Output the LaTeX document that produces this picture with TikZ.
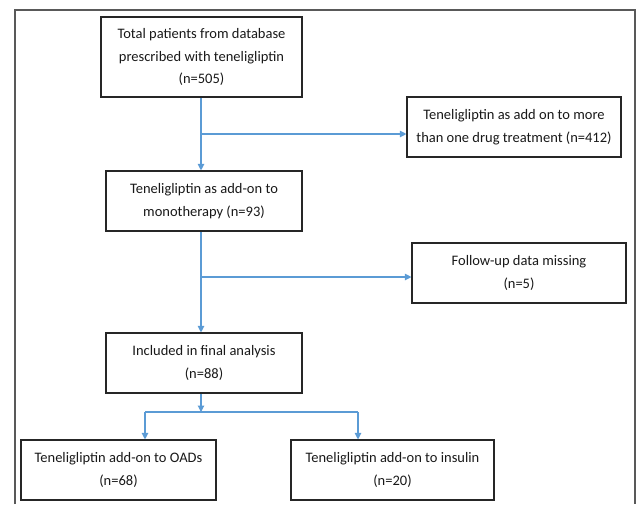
\documentclass[tikz,border=0pt]{standalone}
\usepackage{fontspec}
\setmainfont{Carlito}
\usepackage{tikz}
\usetikzlibrary{arrows.meta}
\pgfdeclarelayer{edgelayer}
\pgfdeclarelayer{nodelayer}
\pgfsetlayers{edgelayer,nodelayer,main}
\definecolor{flowblue}{RGB}{91,155,213}
\definecolor{boxtext}{RGB}{25,25,25}
\tikzstyle{none}=[inner sep=0pt]
\tikzstyle{box}=[rectangle,draw=black!85,fill=white,line width=1.1pt,align=center,text=boxtext,font=\fontsize{14.5}{22.5}\selectfont,inner sep=0pt]
\tikzstyle{frame}=[-,draw=black!65,line width=2pt]
\tikzstyle{blueline}=[-,draw=flowblue,line width=1.1pt]
\tikzstyle{bluearrow}=[-{Triangle[width=6.5pt,length=6.5pt]},draw=flowblue,fill=flowblue,line width=1.1pt]

\begin{document}
\begin{tikzpicture}[x=1pt,y=-1pt]
					\useasboundingbox (0,0) rectangle (636,504);
					\begin{pgfonlayer}{nodelayer}
						\node [style=box,minimum width=201pt,minimum height=80pt] (total) at (201.5,57) {Total patients from database\\prescribed with teneligliptin\\(n=505)};
						\node [style=box,minimum width=214pt,minimum height=60pt] (multi) at (514,127) {Teneligliptin as add on to more\\than one drug treatment (n=412)};
						\node [style=box,minimum width=196pt,minimum height=60pt] (mono) at (204,201) {Teneligliptin as add-on to\\monotherapy (n=93)};
						\node [style=box,minimum width=214pt,minimum height=60pt] (missing) at (519,273) {Follow-up data missing\\(n=5)};
						\node [style=box,minimum width=196pt,minimum height=60pt] (final) at (204,363) {Included in final analysis\\(n=88)};
						\node [style=box,minimum width=195pt,minimum height=60pt] (oad) at (118.5,470) {Teneligliptin add-on to OADs\\(n=68)};
						\node [style=box,minimum width=203pt,minimum height=60pt] (insulin) at (392.5,470) {Teneligliptin add-on to insulin\\(n=20)};
						\coordinate (split) at (201,134);
						\coordinate (split0) at (201,277);
						\coordinate (fork) at (201,412);
						\coordinate (forkleft) at (145,412);
						\coordinate (forkright) at (358,412);
					\end{pgfonlayer}
					\begin{pgfonlayer}{edgelayer}
						\draw [style=frame] (15,504) -- (15,10) -- (634.5,10) -- (634.5,504);
						\draw [style=bluearrow] (split |- total.south) to (split |- mono.north);
						\draw [style=bluearrow] (split) to (split -| multi.west);
						\draw [style=bluearrow] (split |- mono.south) to (split |- final.north);
						\draw [style=bluearrow] (split0) to (split0 -| missing.west);
						\draw [style=bluearrow] (fork |- final.south) to (fork);
						\draw [style=blueline] (forkleft) to (forkright);
						\draw [style=bluearrow] (forkleft) to (forkleft |- oad.north);
						\draw [style=bluearrow] (forkright) to (forkright |- insulin.north);
					\end{pgfonlayer}
				\end{tikzpicture}
\end{document}
